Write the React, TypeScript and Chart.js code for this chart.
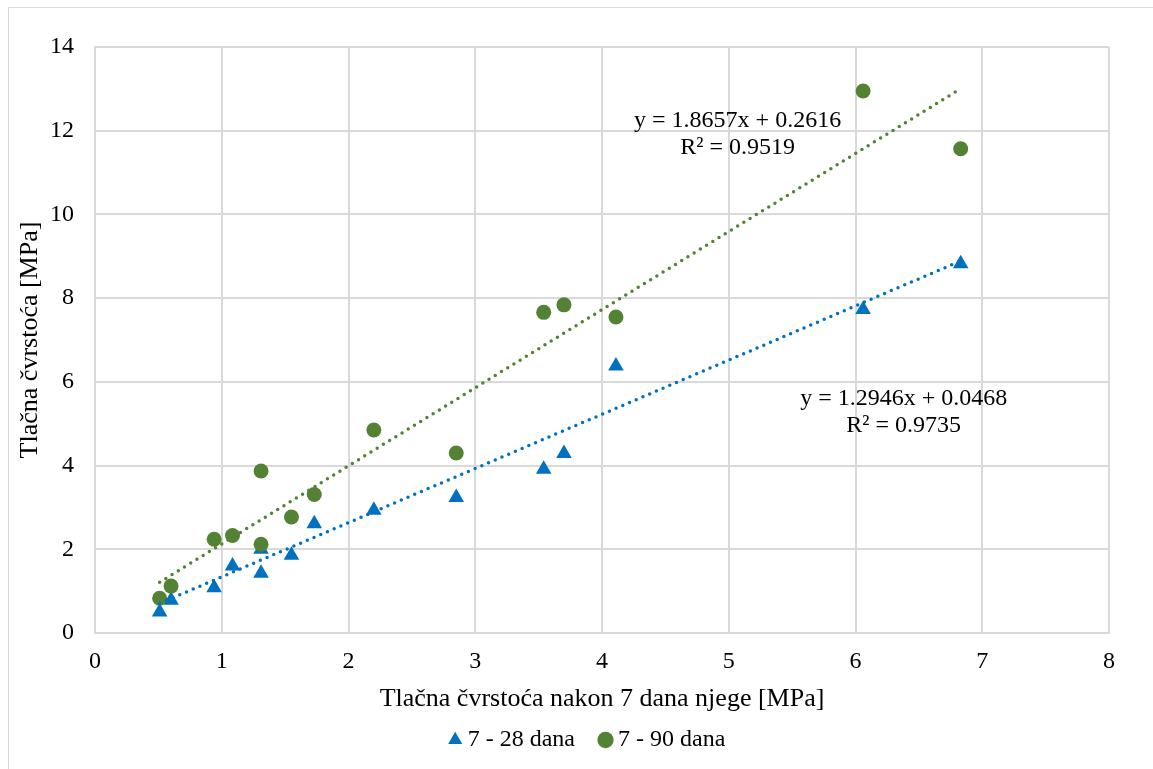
import React, { useEffect, useRef } from 'react';
import { Chart, registerables } from 'chart.js';

Chart.register(...registerables);

// ---- data ----
const seriesNames = ['7 - 28 dana', '7 - 90 dana'];
const xValues = [0.51, 0.6, 0.94, 1.085, 1.31, 1.31, 1.55, 1.73, 2.2, 2.85, 3.54, 3.7, 4.11, 6.06, 6.83];
const y28 = [0.5, 0.78, 1.08, 1.6, 1.43, 2.0, 1.86, 2.61, 2.93, 3.24, 3.91, 4.29, 6.38, 7.73, 8.82];
const y90 = [0.83, 1.12, 2.24, 2.33, 3.87, 2.12, 2.77, 3.31, 4.85, 4.3, 7.66, 7.84, 7.55, 12.95, 11.57];

const trend28 = { slope: 1.2946, intercept: 0.0468, r2: 0.9735 };
const trend90 = { slope: 1.8657, intercept: 0.2616, r2: 0.9519 };

// equation label anchors (data space): x centre, y of line 1, y of line 2
const label28Anchor = [6.38, 5.6, 4.95];
const label90Anchor = [5.07, 12.23, 11.6];

const xTitle = 'Tlačna čvrstoća nakon 7 dana njege [MPa]';
const yTitle = 'Tlačna čvrstoća [MPa]';
const xRange = [0, 8, 1];
const yRange = [0, 14, 2];

const BLUE = '#0070C0';
const GREEN = '#548235';
const GRID = '#d9d9d9';
const FONT = '"Liberation Serif", "Times New Roman", serif';

function trendPoints(t: { slope: number; intercept: number }) {
  const lo = Math.min(...xValues);
  const hi = Math.max(...xValues);
  return [lo, hi].map((x) => ({ x, y: t.slope * x + t.intercept }));
}

function eqLines(t: { slope: number; intercept: number; r2: number }) {
  return [
    `y = ${t.slope.toFixed(4)}x + ${t.intercept.toFixed(4)}`,
    `R² = ${t.r2.toFixed(4)}`,
  ];
}

const trendLabelPlugin = {
  id: 'trendLabels',
  afterDatasetsDraw(chart: any) {
    const { ctx, scales } = chart;
    const xs = scales.x;
    const ys = scales.y;
    ctx.save();
    ctx.font = `24px ${FONT}`;
    ctx.fillStyle = '#000';
    ctx.textAlign = 'center';
    ctx.textBaseline = 'middle';
    const items: [typeof trend28, number[]][] = [
      [trend90, label90Anchor],
      [trend28, label28Anchor],
    ];
    items.forEach(([t, a]) => {
      const lines = eqLines(t);
      const px = xs.getPixelForValue(a[0]);
      ctx.fillText(lines[0], px, ys.getPixelForValue(a[1]));
      ctx.fillText(lines[1], px, ys.getPixelForValue(a[2]));
    });
    ctx.restore();
  },
};

export default function App() {
  const ref = useRef<HTMLCanvasElement | null>(null);

  useEffect(() => {
    if (!ref.current) return;
    Chart.defaults.font.family = FONT;
    const chart = new Chart(ref.current, {
      type: 'scatter',
      data: {
        datasets: [
          {
            label: seriesNames[0],
            data: xValues.map((x, i) => ({ x, y: y28[i] })),
            pointStyle: 'triangle',
            pointRadius: 9,
            backgroundColor: BLUE,
            borderColor: BLUE,
            borderWidth: 0,
            order: 3,
          },
          {
            label: seriesNames[1],
            data: xValues.map((x, i) => ({ x, y: y90[i] })),
            pointStyle: 'circle',
            pointRadius: 7.5,
            backgroundColor: GREEN,
            borderColor: GREEN,
            borderWidth: 0,
            order: 2,
          },
          {
            label: 'trend28',
            data: trendPoints(trend28),
            showLine: true,
            pointRadius: 0,
            borderColor: BLUE,
            backgroundColor: BLUE,
            borderWidth: 3.5,
            borderDash: [0, 7.3],
            borderCapStyle: 'round',
            order: 1,
          },
          {
            label: 'trend90',
            data: trendPoints(trend90),
            showLine: true,
            pointRadius: 0,
            borderColor: GREEN,
            backgroundColor: GREEN,
            borderWidth: 3.5,
            borderDash: [0, 7.3],
            borderCapStyle: 'round',
            order: 0,
          },
        ] as any,
      },
      options: {
        animation: false,
        responsive: false,
        devicePixelRatio: 1,
        events: [],
        layout: { padding: { left: 18, right: 0, top: 39, bottom: 7 } },
        plugins: {
          tooltip: { enabled: false },
          legend: {
            position: 'bottom',
            labels: {
              usePointStyle: true,
              boxWidth: 1,
              boxHeight: 11.5,
              padding: 30,
              color: '#000',
              font: { size: 24, family: FONT },
              filter: (item: any) => item.datasetIndex < 2,
              sort: (a: any, b: any) => a.datasetIndex - b.datasetIndex,
            },
          },
        },
        scales: {
          x: {
            type: 'linear',
            min: xRange[0],
            max: xRange[1],
            ticks: { stepSize: xRange[2], padding: 14, color: '#000', font: { size: 24 } },
            grid: { color: GRID, lineWidth: 2, drawTicks: false },
            border: { color: GRID, width: 2 },
            title: {
              display: true,
              text: xTitle,
              color: '#000',
              font: { size: 26, lineHeight: 1.2 },
              padding: { top: 0, bottom: -16.6 },
            },
            afterFit: (s: any) => {
              s.height = 65;
            },
          },
          y: {
            type: 'linear',
            min: yRange[0],
            max: yRange[1],
            ticks: { stepSize: yRange[2], padding: 21, color: '#000', font: { size: 24 } },
            grid: { color: GRID, lineWidth: 2, drawTicks: false },
            border: { color: GRID, width: 2 },
            title: {
              display: true,
              text: yTitle,
              color: '#000',
              font: { size: 26, lineHeight: 1.2 },
              padding: { top: -12, bottom: 0 },
            },
            afterFit: (s: any) => {
              s.width = 68;
            },
          },
          y2: {
            type: 'linear',
            position: 'right',
            display: true,
            grid: { display: false },
            ticks: { display: false },
            border: { display: false },
            afterFit: (s: any) => {
              s.width = 44;
            },
          },
        },
      } as any,
      plugins: [trendLabelPlugin],
    });
    return () => chart.destroy();
  }, []);

  return (
    <div
      style={{
        position: 'fixed',
        left: 8,
        top: 7,
        width: 1145,
        height: 762,
        boxSizing: 'border-box',
        borderLeft: `1px solid ${GRID}`,
        borderTop: `1px solid ${GRID}`,
        background: '#fff',
      }}
    >
      <canvas ref={ref} width={1144} height={761} style={{ display: 'block', width: 1144, height: 761 }} />
    </div>
  );
}
